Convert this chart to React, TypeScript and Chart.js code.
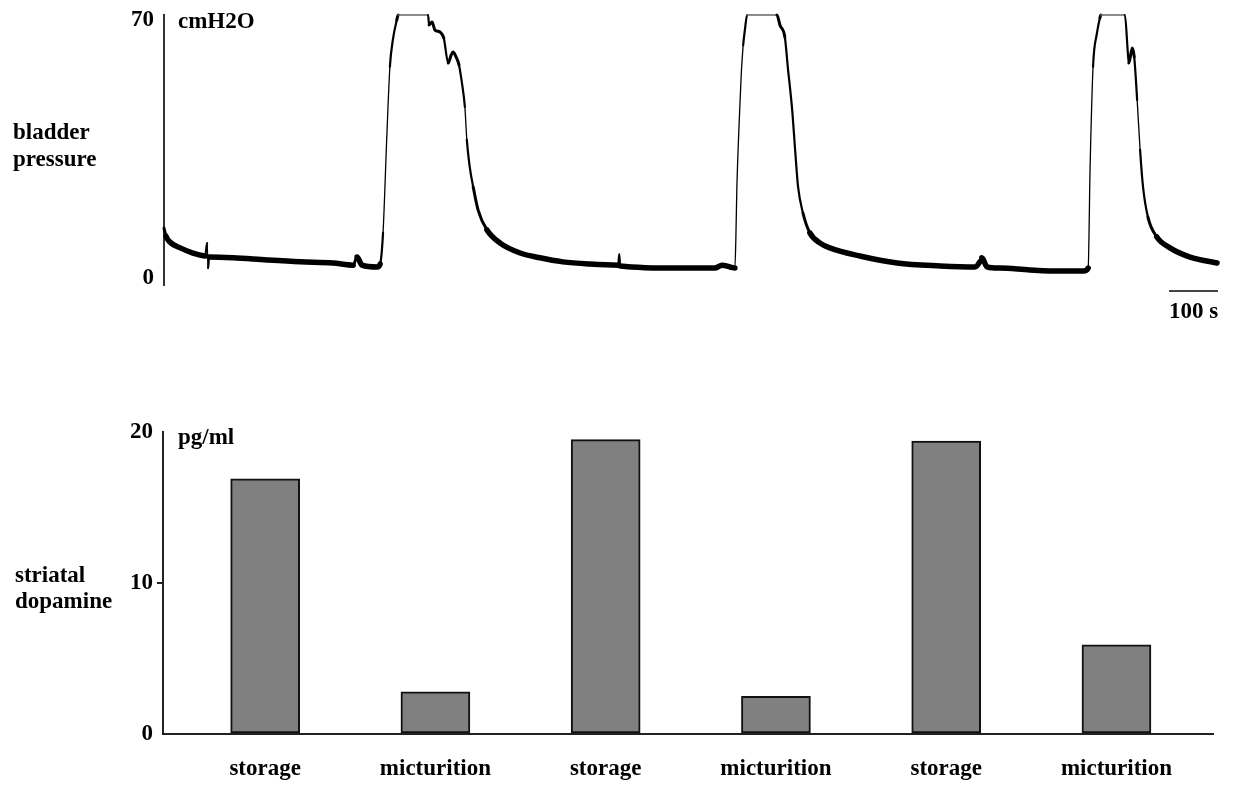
import React, { useEffect, useRef } from 'react';
import { Chart, registerables } from 'chart.js';

Chart.register(...registerables);

// ---- top panel: bladder pressure trace (time in s, pressure in cmH2O) ----
const pressureTime = [
  0, 4, 12, 33, 59, 84, 88, 90, 92, 141, 210, 278, 345, 386, 394, 404, 435, 441, 447, 455,
  461, 467, 475, 478, 539, 541, 547, 553, 563, 571, 580, 586, 590, 596, 602, 608, 614, 618,
  624, 631, 641, 659, 686, 727, 767, 814, 869, 927, 929, 931, 1053, 1124, 1139, 1155, 1165,
  1167, 1169, 1174, 1178, 1182, 1186, 1190, 1251, 1257, 1267, 1273, 1282, 1288, 1294, 1304,
  1318, 1339, 1359, 1420, 1496, 1584, 1655, 1665, 1669, 1680, 1706, 1767, 1829, 1876, 1886,
  1890, 1896, 1904, 1910, 1912, 1961, 1967, 1969, 1976, 1980, 1986, 1992, 1998, 2008, 2026,
  2053, 2094, 2149,
];
const pressureValue = [
  13.5, 11.3, 9.7, 8.1, 6.7, 5.9, 9.4, 2.6, 5.6, 5.4, 4.8, 4.3, 4.0, 3.4, 5.6, 3.4, 2.9, 3.7, 12.2, 39.4,
  57.4, 64.7, 70.1, 71.5, 71.5, 68.8, 69.6, 67.4, 66.9, 65.2, 58.4, 60.6, 61.4, 60.1, 57.9, 53.0, 46.5, 37.5,
  30.1, 24.7, 18.4, 13.0, 9.4, 6.7, 5.4, 4.3, 3.7, 3.4, 6.4, 3.2, 2.6, 2.6, 3.4, 2.9, 2.6,
  10.3, 23.9, 42.9, 55.2, 63.3, 68.0, 71.5, 71.5, 68.8, 65.5, 57.4, 45.6, 34.8, 24.7, 17.6,
  12.2, 9.4, 8.1, 5.9, 4.0, 3.2, 2.9, 4.3, 5.4, 2.9, 2.6, 2.1, 1.8, 1.8, 2.6,
  30.1, 57.4, 66.6, 70.7, 71.5, 71.5, 61.2, 58.4, 62.5, 60.1, 48.4, 34.8, 24.7, 16.5, 11.1,
  8.1, 5.6, 4.0,
];
const pressureTicks = [0, 70];
const timeMax = 2151;
const scaleBarSeconds = 100;

// ---- bottom panel: striatal dopamine bars (pg/ml) ----
const categories = ['storage', 'micturition', 'storage', 'micturition', 'storage', 'micturition'];
const dopamine = [16.9, 2.8, 19.5, 2.5, 19.4, 5.9];
const dopamineTicks = [0, 10, 20];

const FONT = '"Liberation Serif", "Times New Roman", serif';
const FSIZE = 23;

function textPlugin(id: string, items: { text: string; x: number; y: number }[]) {
  return {
    id,
    afterDraw(chart: any) {
      const ctx = chart.ctx;
      ctx.save();
      ctx.fillStyle = '#000';
      ctx.font = `bold ${FSIZE}px ${FONT}`;
      ctx.textBaseline = 'alphabetic';
      ctx.textAlign = 'left';
      items.forEach((it) => ctx.fillText(it.text, it.x, it.y));
      ctx.restore();
    },
  };
}

const scaleBarPlugin = {
  id: 'scaleBar',
  afterDraw(chart: any) {
    const ctx = chart.ctx;
    const xs = chart.scales.x;
    const x1 = xs.getPixelForValue(timeMax - scaleBarSeconds);
    const x2 = xs.getPixelForValue(timeMax);
    const y = chart.chartArea.bottom + 6;
    ctx.save();
    ctx.strokeStyle = '#444';
    ctx.lineWidth = 2;
    ctx.beginPath();
    ctx.moveTo(x1, y);
    ctx.lineTo(x2, y);
    ctx.stroke();
    ctx.fillStyle = '#000';
    ctx.font = `bold ${FSIZE}px ${FONT}`;
    ctx.textAlign = 'center';
    ctx.textBaseline = 'alphabetic';
    ctx.fillText(`${scaleBarSeconds} s`, (x1 + x2) / 2, y + 27);
    ctx.restore();
  },
};

export default function App() {
  const topRef = useRef<HTMLCanvasElement>(null);
  const botRef = useRef<HTMLCanvasElement>(null);

  useEffect(() => {
    const plateau = Math.max(...pressureValue);
    const tickFont = { family: FONT, size: FSIZE, weight: 'bold' as const };

    const top = new Chart(topRef.current!, {
      type: 'line',
      data: {
        datasets: [
          {
            data: pressureTime.map((t, i) => ({ x: t, y: pressureValue[i] })),
            borderColor: '#000',
            borderWidth: 2,
            pointRadius: 0,
            cubicInterpolationMode: 'monotone',
            clip: 10,
            borderJoinStyle: 'round',
            borderCapStyle: 'round',
            segment: {
              borderWidth: (c: any) => {
                const ya = pressureValue[c.p0DataIndex];
                const yb = pressureValue[c.p1DataIndex];
                if (ya >= plateau && yb >= plateau) return 1.5;
                const slope = Math.abs(c.p1.y - c.p0.y) / Math.max(Math.abs(c.p1.x - c.p0.x), 0.01);
                if (slope > 15) return 1.3;
                if (slope > 5) return 2.2;
                if (slope > 2 || Math.min(ya, yb) > 20) return 3;
                return 5.5;
              },
              borderColor: (c: any) => {
                const ya = pressureValue[c.p0DataIndex];
                const yb = pressureValue[c.p1DataIndex];
                return ya >= plateau && yb >= plateau ? '#666' : '#000';
              },
            },
          } as any,
        ],
      },
      options: {
        animation: false,
        responsive: false,
        maintainAspectRatio: false,
        layout: { padding: { left: 0, top: 15, right: 17, bottom: 502 } },
        plugins: { legend: { display: false }, tooltip: { enabled: false } },
        scales: {
          x: { type: 'linear', min: 0, max: timeMax, display: false },
          y: {
            type: 'linear',
            min: -2,
            max: plateau,
            afterBuildTicks: (s: any) => {
              s.ticks = pressureTicks.map((v) => ({ value: v }));
            },
            afterFit: (s: any) => {
              s.width = 164;
              s.paddingTop = 0;
              s.paddingBottom = 0;
            },
            grid: { drawOnChartArea: false, drawTicks: false, color: 'rgba(0,0,0,0)' },
            border: { display: true, color: '#333', width: 2 },
            ticks: { color: '#000', font: tickFont, padding: 10 },
          },
        },
      } as any,
      plugins: [
        scaleBarPlugin,
        textPlugin('topText', [
          { text: 'cmH2O', x: 178, y: 28 },
          { text: 'bladder', x: 13, y: 139 },
          { text: 'pressure', x: 13, y: 166 },
        ]),
      ],
    });

    const bot = new Chart(botRef.current!, {
      type: 'bar',
      data: {
        datasets: [
          {
            data: dopamine.map((v, i) => ({ x: i, y: v })),
            backgroundColor: '#808080',
            borderColor: '#111',
            borderWidth: 2,
            borderSkipped: false,
            barThickness: 69,
          } as any,
        ],
      },
      options: {
        animation: false,
        responsive: false,
        maintainAspectRatio: false,
        layout: { padding: { left: 0, top: 432, right: 22, bottom: 0 } },
        plugins: { legend: { display: false }, tooltip: { enabled: false } },
        scales: {
          x: {
            type: 'linear',
            min: -0.6,
            max: 5.567,
            offset: false,
            afterBuildTicks: (s: any) => {
              s.ticks = categories.map((_, i) => ({ value: i }));
            },
            afterFit: (s: any) => {
              s.height = 53;
              s.paddingLeft = 0;
              s.paddingRight = 0;
            },
            grid: { offset: false, drawOnChartArea: false, drawTicks: false, color: 'rgba(0,0,0,0)' },
            border: { display: true, color: '#222', width: 2 },
            ticks: {
              color: '#000',
              font: tickFont,
              padding: 21,
              autoSkip: false,
              maxRotation: 0,
              callback: (_v: any, i: number) => categories[i],
            },
          },
          y: {
            type: 'linear',
            min: 0,
            max: 20,
            afterBuildTicks: (s: any) => {
              s.ticks = dopamineTicks.map((v) => ({ value: v }));
            },
            afterFit: (s: any) => {
              s.width = 163;
              s.paddingTop = 0;
              s.paddingBottom = 0;
            },
            grid: {
              drawOnChartArea: false,
              drawTicks: true,
              tickLength: 6,
              lineWidth: 2,
              color: (c: any) => (c.tick && c.tick.value === 10 ? '#222' : 'rgba(0,0,0,0)'),
            },
            border: { display: true, color: '#222', width: 2 },
            ticks: { color: '#000', font: tickFont, padding: 4 },
          },
        },
      } as any,
      plugins: [
        textPlugin('botText', [
          { text: 'pg/ml', x: 178, y: 444 },
          { text: 'striatal', x: 15, y: 582 },
          { text: 'dopamine', x: 15, y: 608 },
        ]),
      ],
    });

    return () => {
      top.destroy();
      bot.destroy();
    };
  }, []);

  return (
    <div style={{ position: 'fixed', left: 0, top: 0, width: 1235, height: 787, background: '#fff' }}>
      <canvas ref={topRef} width={1235} height={787} style={{ position: 'absolute', left: 0, top: 0 }} />
      <canvas ref={botRef} width={1235} height={787} style={{ position: 'absolute', left: 0, top: 0 }} />
    </div>
  );
}
